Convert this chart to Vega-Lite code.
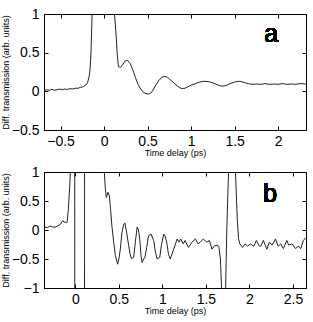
{
  "$schema": "https://vega.github.io/schema/vega-lite/v6.json",
  "padding": {"left": 0, "top": 6, "right": 5, "bottom": 0},
  "spacing": 6,
  "config": {
    "view": {"stroke": "#000", "strokeWidth": 1},
    "font": "Liberation Sans",
    "axis": {
      "grid": false,
      "domainColor": "#000",
      "tickColor": "#000",
      "tickSize": -4,
      "labelColor": "#000",
      "labelFont": "Liberation Sans",
      "labelFontSize": 14,
      "labelFlush": false,
      "labelOverlap": false,
      "format": "~g",
      "titleFont": "Liberation Sans",
      "titleFontSize": 9,
      "titleFontWeight": "normal",
      "titleColor": "#000"
    }
  },
  "vconcat": [
    {
      "width": 262,
      "height": 116,
      "data": {"values": [
        {"t": -0.69, "v": 0.01}, {"t": -0.66, "v": 0.02}, {"t": -0.63, "v": 0.015}, {"t": -0.6, "v": 0.025},
        {"t": -0.57, "v": 0.015}, {"t": -0.54, "v": 0.02}, {"t": -0.51, "v": 0.03}, {"t": -0.48, "v": 0.02},
        {"t": -0.45, "v": 0.03}, {"t": -0.42, "v": 0.025}, {"t": -0.39, "v": 0.035}, {"t": -0.36, "v": 0.03},
        {"t": -0.33, "v": 0.04}, {"t": -0.3, "v": 0.04}, {"t": -0.27, "v": 0.05}, {"t": -0.24, "v": 0.06},
        {"t": -0.21, "v": 0.08}, {"t": -0.19, "v": 0.11}, {"t": -0.17, "v": 0.2}, {"t": -0.16, "v": 0.3},
        {"t": -0.15, "v": 0.5}, {"t": -0.14, "v": 0.9}, {"t": -0.13, "v": 1.4}, {"t": -0.1, "v": 2.2},
        {"t": -0.05, "v": 3}, {"t": 0, "v": 3.5}, {"t": 0.05, "v": 3}, {"t": 0.09, "v": 2},
        {"t": 0.11, "v": 1.3}, {"t": 0.12, "v": 1.0}, {"t": 0.14, "v": 0.7}, {"t": 0.15, "v": 0.5},
        {"t": 0.165, "v": 0.32}, {"t": 0.19, "v": 0.31}, {"t": 0.21, "v": 0.34}, {"t": 0.24, "v": 0.39},
        {"t": 0.27, "v": 0.4}, {"t": 0.3, "v": 0.36}, {"t": 0.33, "v": 0.28}, {"t": 0.36, "v": 0.18},
        {"t": 0.39, "v": 0.09}, {"t": 0.42, "v": 0.03}, {"t": 0.45, "v": -0.01}, {"t": 0.48, "v": -0.03},
        {"t": 0.51, "v": -0.035}, {"t": 0.54, "v": -0.02}, {"t": 0.57, "v": 0.03}, {"t": 0.6, "v": 0.09},
        {"t": 0.63, "v": 0.14}, {"t": 0.66, "v": 0.18}, {"t": 0.7, "v": 0.195}, {"t": 0.73, "v": 0.18},
        {"t": 0.76, "v": 0.15}, {"t": 0.8, "v": 0.11}, {"t": 0.84, "v": 0.07}, {"t": 0.88, "v": 0.04},
        {"t": 0.915, "v": 0.035}, {"t": 0.95, "v": 0.05}, {"t": 1.0, "v": 0.08}, {"t": 1.05, "v": 0.1},
        {"t": 1.1, "v": 0.12}, {"t": 1.15, "v": 0.13}, {"t": 1.2, "v": 0.125}, {"t": 1.25, "v": 0.11},
        {"t": 1.3, "v": 0.085}, {"t": 1.36, "v": 0.065}, {"t": 1.4, "v": 0.075}, {"t": 1.45, "v": 0.1},
        {"t": 1.5, "v": 0.12}, {"t": 1.54, "v": 0.13}, {"t": 1.58, "v": 0.125}, {"t": 1.62, "v": 0.11},
        {"t": 1.66, "v": 0.1}, {"t": 1.7, "v": 0.09}, {"t": 1.75, "v": 0.095}, {"t": 1.8, "v": 0.09},
        {"t": 1.85, "v": 0.1}, {"t": 1.9, "v": 0.09}, {"t": 1.95, "v": 0.095}, {"t": 2.0, "v": 0.09},
        {"t": 2.05, "v": 0.1}, {"t": 2.1, "v": 0.09}, {"t": 2.15, "v": 0.095}, {"t": 2.2, "v": 0.09},
        {"t": 2.25, "v": 0.1}, {"t": 2.32, "v": 0.095}
      ]},
      "layer": [
        {
          "mark": {"type": "line", "clip": true, "color": "#222", "strokeWidth": 1},
          "encoding": {
            "x": {"field": "t", "type": "quantitative", "scale": {"domain": [-0.69, 2.32], "nice": false, "zero": false},
                  "axis": {"orient": "bottom", "values": [-0.5, 0, 0.5, 1, 1.5, 2], "title": "Time delay (ps)", "labelPadding": 8, "titlePadding": 0}},
            "y": {"field": "v", "type": "quantitative", "scale": {"domain": [-0.5, 1], "nice": false, "zero": false},
                  "axis": {"orient": "left", "values": [-0.5, 0, 0.5, 1], "title": "Diff. transmission (arb. units)", "labelPadding": 9, "titlePadding": 1}}
          }
        },
        {
          "mark": {"type": "line", "clip": true, "opacity": 0},
          "encoding": {
            "x": {"field": "t", "type": "quantitative", "axis": {"orient": "top", "values": [-0.5, 0, 0.5, 1, 1.5, 2], "labels": false, "title": null}},
            "y": {"field": "v", "type": "quantitative", "axis": {"orient": "right", "values": [-0.5, 0, 0.5, 1], "labels": false, "title": null}}
          }
        },
        {
          "mark": {"type": "text", "fontSize": 25, "fontWeight": "normal", "font": "Liberation Sans", "align": "center", "baseline": "alphabetic", "color": "#000"},
          "encoding": {
            "x": {"datum": 1.92, "type": "quantitative", "axis": null},
            "y": {"datum": 0.634, "type": "quantitative", "axis": null},
            "text": {"value": "a"}
          }
        }
      ],
      "resolve": {"axis": {"x": "independent", "y": "independent"}}
    },
    {
      "width": 262,
      "height": 116,
      "data": {"values": [
        {"t": -0.36, "v": 0.02}, {"t": -0.345, "v": 0.05}, {"t": -0.32, "v": 0.04}, {"t": -0.29, "v": 0.07},
        {"t": -0.26, "v": 0.05}, {"t": -0.23, "v": 0.05}, {"t": -0.2, "v": 0.07}, {"t": -0.17, "v": 0.1},
        {"t": -0.146, "v": 0.16}, {"t": -0.13, "v": 0.14}, {"t": -0.115, "v": 0.13}, {"t": -0.095, "v": 0.13},
        {"t": -0.08, "v": 0.35}, {"t": -0.065, "v": 0.75}, {"t": -0.057, "v": 1.0}, {"t": -0.045, "v": 2},
        {"t": -0.02, "v": 3}, {"t": -0.008, "v": 3}, {"t": -0.006, "v": -3}, {"t": 0.105, "v": -3},
        {"t": 0.107, "v": 3}, {"t": 0.32, "v": 3}, {"t": 0.333, "v": 1.0}, {"t": 0.345, "v": 0.7},
        {"t": 0.356, "v": 0.56}, {"t": 0.375, "v": 0.65}, {"t": 0.39, "v": 0.6}, {"t": 0.405, "v": 0.35},
        {"t": 0.42, "v": 0.07}, {"t": 0.44, "v": -0.2}, {"t": 0.46, "v": -0.44}, {"t": 0.486, "v": -0.59},
        {"t": 0.5, "v": -0.5}, {"t": 0.517, "v": -0.33}, {"t": 0.535, "v": -0.05}, {"t": 0.556, "v": 0.1},
        {"t": 0.57, "v": 0.12}, {"t": 0.59, "v": -0.05}, {"t": 0.613, "v": -0.27}, {"t": 0.63, "v": -0.42},
        {"t": 0.644, "v": -0.49}, {"t": 0.67, "v": -0.47}, {"t": 0.69, "v": -0.2}, {"t": 0.71, "v": 0.05},
        {"t": 0.725, "v": 0.0}, {"t": 0.74, "v": -0.155}, {"t": 0.755, "v": -0.45}, {"t": 0.767, "v": -0.56},
        {"t": 0.785, "v": -0.5}, {"t": 0.8, "v": -0.47}, {"t": 0.82, "v": -0.3}, {"t": 0.84, "v": -0.1},
        {"t": 0.87, "v": -0.07}, {"t": 0.9, "v": -0.18}, {"t": 0.92, "v": -0.38}, {"t": 0.94, "v": -0.5},
        {"t": 0.97, "v": -0.47}, {"t": 0.99, "v": -0.25}, {"t": 1.015, "v": -0.07}, {"t": 1.03, "v": -0.1},
        {"t": 1.05, "v": -0.21}, {"t": 1.07, "v": -0.42}, {"t": 1.09, "v": -0.5}, {"t": 1.13, "v": -0.33},
        {"t": 1.17, "v": -0.155}, {"t": 1.19, "v": -0.21}, {"t": 1.21, "v": -0.155}, {"t": 1.24, "v": -0.24},
        {"t": 1.26, "v": -0.18}, {"t": 1.3, "v": -0.3}, {"t": 1.34, "v": -0.21}, {"t": 1.38, "v": -0.155},
        {"t": 1.41, "v": -0.24}, {"t": 1.44, "v": -0.2}, {"t": 1.47, "v": -0.155}, {"t": 1.51, "v": -0.21},
        {"t": 1.54, "v": -0.18}, {"t": 1.57, "v": -0.33}, {"t": 1.6, "v": -0.27}, {"t": 1.63, "v": -0.26},
        {"t": 1.65, "v": -0.3}, {"t": 1.667, "v": -0.5}, {"t": 1.68, "v": -1.0}, {"t": 1.7, "v": -2.0},
        {"t": 1.72, "v": -1.5}, {"t": 1.74, "v": 0.0}, {"t": 1.76, "v": 1.0}, {"t": 1.78, "v": 2.0},
        {"t": 1.82, "v": 2.0}, {"t": 1.84, "v": 1.0}, {"t": 1.86, "v": 0.2}, {"t": 1.875, "v": -0.15},
        {"t": 1.89, "v": -0.24}, {"t": 1.92, "v": -0.3}, {"t": 1.95, "v": -0.24}, {"t": 1.98, "v": -0.28},
        {"t": 2.01, "v": -0.24}, {"t": 2.05, "v": -0.28}, {"t": 2.08, "v": -0.18}, {"t": 2.11, "v": -0.27},
        {"t": 2.13, "v": -0.28}, {"t": 2.16, "v": -0.18}, {"t": 2.2, "v": -0.33}, {"t": 2.23, "v": -0.21},
        {"t": 2.26, "v": -0.26}, {"t": 2.3, "v": -0.155}, {"t": 2.33, "v": -0.28}, {"t": 2.36, "v": -0.24},
        {"t": 2.39, "v": -0.32}, {"t": 2.43, "v": -0.18}, {"t": 2.45, "v": -0.26}, {"t": 2.49, "v": -0.24},
        {"t": 2.53, "v": -0.32}, {"t": 2.56, "v": -0.28}, {"t": 2.59, "v": -0.32}, {"t": 2.62, "v": -0.18},
        {"t": 2.65, "v": -0.13}
      ]},
      "layer": [
        {
          "mark": {"type": "line", "clip": true, "color": "#222", "strokeWidth": 1},
          "encoding": {
            "x": {"field": "t", "type": "quantitative", "scale": {"domain": [-0.36, 2.65], "nice": false, "zero": false},
                  "axis": {"orient": "bottom", "values": [0, 0.5, 1, 1.5, 2, 2.5], "title": "Time delay (ps)", "labelPadding": 8, "titlePadding": 0}},
            "y": {"field": "v", "type": "quantitative", "scale": {"domain": [-1, 1], "nice": false, "zero": false},
                  "axis": {"orient": "left", "values": [-1, -0.5, 0, 0.5, 1], "title": "Diff. transmission (arb. units)", "labelPadding": 9, "titlePadding": 1}}
          }
        },
        {
          "mark": {"type": "line", "clip": true, "opacity": 0},
          "encoding": {
            "x": {"field": "t", "type": "quantitative", "axis": {"orient": "top", "values": [0, 0.5, 1, 1.5, 2, 2.5], "labels": false, "title": null}},
            "y": {"field": "v", "type": "quantitative", "axis": {"orient": "right", "values": [-1, -0.5, 0, 0.5, 1], "labels": false, "title": null}}
          }
        },
        {
          "mark": {"type": "text", "fontSize": 25, "fontWeight": "normal", "font": "Liberation Sans", "align": "center", "baseline": "alphabetic", "color": "#000"},
          "encoding": {
            "x": {"datum": 2.236, "type": "quantitative", "axis": null},
            "y": {"datum": 0.483, "type": "quantitative", "axis": null},
            "text": {"value": "b"}
          }
        }
      ],
      "resolve": {"axis": {"x": "independent", "y": "independent"}}
    }
  ]
}
